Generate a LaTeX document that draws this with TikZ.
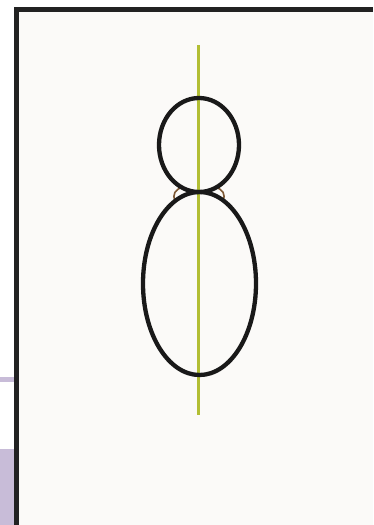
\documentclass[tikz,border=0pt]{standalone}
\usepackage{tikz}
\usetikzlibrary{positioning}
\definecolor{FrameDark}{RGB}{34, 34, 34}
\definecolor{PaperWhite}{RGB}{251, 250, 248}
\definecolor{SideLilac}{RGB}{200, 188, 216}
\definecolor{AxisGreen}{RGB}{178, 190, 52}
\definecolor{FilletBrown}{RGB}{125, 88, 52}

\begin{document}
\begin{tikzpicture}[x=1pt, y=-1pt,
      outline/.style={draw=black!90, line width=4.3pt},
      axis/.style={draw=AxisGreen, line width=3pt},
      fillet/.style={draw=FilletBrown, line width=1.6pt}
    ]
      \useasboundingbox (0,0) rectangle (373,525);
      \fill[white] (0,0) rectangle (373,525);
      % lilac strips on the left
      \fill[SideLilac] (0,377) rectangle (14,382);
      \fill[SideLilac] (0,449) rectangle (14,525);
      % frame
      \fill[FrameDark] (14,7) rectangle (373,525);
      \fill[PaperWhite] (18.5,11.5) rectangle (373,525);

      \coordinate (axtop) at (198.5,45);
      \coordinate (axbot) at (198.5,415);
      \draw[axis] (axtop) -- (axbot);

      \coordinate (head) at (199,145);
      \coordinate (body) at (199.5,283.5);
      \draw[fillet] (183,187) .. controls (175,189) and (172,195) .. (175,201);
      \draw[fillet] (215,187) .. controls (223,189) and (226,195) .. (223,201);
      \draw[outline] (head) ellipse [x radius=40, y radius=47];
      \draw[outline] (body) ellipse [x radius=56.5, y radius=91.5];
    \end{tikzpicture}
\end{document}
